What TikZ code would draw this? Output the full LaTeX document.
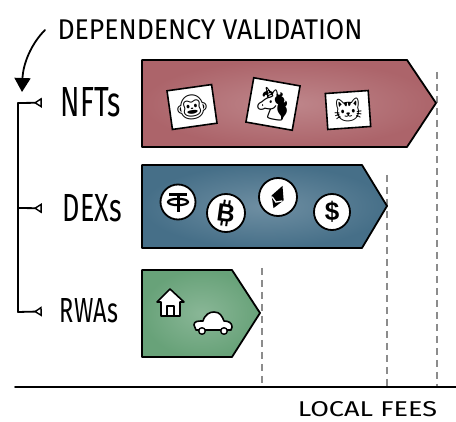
\documentclass[tikz,border=0pt]{standalone}
\usepackage{fontspec}
\usepackage{graphicx}
\setmainfont{Fira Sans}
\newfontfamily\emojifont{Noto Emoji}
\newfontfamily\coinfont{Liberation Sans}
\usetikzlibrary{arrows.meta}
\definecolor{nftred}{RGB}{172,100,106}
\definecolor{dexblue}{RGB}{70,111,136}
\definecolor{rwagreen}{RGB}{104,162,121}
\definecolor{guide}{RGB}{140,140,140}
\begin{document}
\begin{tikzpicture}[x=1pt,y=-1pt,
  ink/.style={line width=1.8pt, line join=round, line cap=round},
  guideline/.style={draw=guide, line width=1.4pt, dash pattern=on 7pt off 5pt},
  tag/.style={inner sep=0pt, anchor=center},
  frame/.style={draw=black, fill=white, line width=1.6pt, inner sep=0pt},
  coin/.style={circle, draw=black, fill=white, line width=1.8pt, inner sep=0pt},
  branch/.style={ink, -{Triangle[open,reversed,length=8pt,width=10pt,line width=1.4pt]}},
  wash/.style={ink, inner color=#1!78!white, outer color=#1},
]
\fill[white] (0,0) rectangle (456,422);
\useasboundingbox (0,0) rectangle (456,422);

% heading and its curved pointer
\node[tag] (title) at (210,30) {\resizebox{305pt}{20pt}{DEPENDENCY VALIDATION}};
\coordinate (hook) at (45,30);
\coordinate (hookend) at (22,92);
\draw[ink, -{Triangle[length=14pt,width=16pt]}] (hook) .. controls (31,44) and (23,64) .. (hookend);

% category labels
\node[tag] (nft) at (91,102.5) {\resizebox{60pt}{29pt}{NFTs}};
\node[tag] (dex) at (92.5,208.5) {\resizebox{59pt}{27pt}{DEXs}};
\node[tag] (rwa) at (89,311) {\resizebox{58pt}{24pt}{RWAs}};

% dependency rail
\coordinate (railN) at (18,103);
\coordinate (railD) at (18,208);
\coordinate (railR) at (18,312);
\draw[ink] (railN) -- (railR);
\draw[branch, shorten >=19pt] (railN) -- (nft.west);
\draw[branch, shorten >=21pt] (railD) -- (dex.west);
\draw[branch, shorten >=18pt] (railR) -- (rwa.west);

% fee guides and axis
\coordinate (axisL) at (15,387);
\coordinate (axisR) at (456,387);
\draw[guideline] (437,72) -- (437,387);
\draw[guideline] (387,175) -- (387,387);
\draw[guideline] (262,268) -- (262,387);
\draw[ink] (axisL) -- (axisR);
\node[tag] (fees) at (367.5,409.5) {\resizebox{139pt}{15pt}{LOCAL FEES}};

% bars
\shadedraw[wash=nftred] (142,60) -- (407,60) -- (436,103) -- (407,147) -- (142,147) -- cycle;
\shadedraw[wash=dexblue] (142,165) -- (362,165) -- (387,206) -- (362,248) -- (142,248) -- cycle;
\shadedraw[wash=rwagreen] (142,270) -- (232,270) -- (260,313) -- (232,357) -- (142,357) -- cycle;

% NFT collectibles
\node[frame, minimum width=45pt, minimum height=39pt, rotate=8] (monkey) at (192,107)
  {\emojifont\fontsize{26}{26}\selectfont 🐵};
\node[frame, minimum width=47pt, minimum height=45pt, rotate=-10] (unicorn) at (273,104)
  {\emojifont\fontsize{30}{30}\selectfont 🦄};
\node[frame, minimum width=43pt, minimum height=36pt, rotate=4] (cat) at (348,110)
  {\emojifont\fontsize{24}{24}\selectfont 🐱};

% DEX tokens
\node[coin, minimum size=35pt] (tether) at (178,202) {};
\node[coin, minimum size=38pt] (bitcoin) at (226,213) {};
\node[coin, minimum size=38pt] (ether) at (278,197) {};
\node[coin, minimum size=36pt] (dollar) at (332,212) {};

\begin{scope}[shift={(tether.center)}]
  \draw[line width=3pt] (-9,-7) -- (9,-7) (0,-7) -- (0,10);
  \draw[line width=2.2pt] (0,0) ellipse [x radius=10, y radius=3.2];
\end{scope}
\node[tag, rotate=-8] (btc) at (bitcoin.center) {\coinfont\bfseries\fontsize{25}{25}\selectfont B};
\begin{scope}[shift={(bitcoin.center)}, rotate=-8, line width=2pt]
  \draw (-3,-13) -- (-3,-8) (2,-13) -- (2,-8);
  \draw (-3,8) -- (-3,13) (2,8) -- (2,13);
\end{scope}
\begin{scope}[shift={(ether.center)}, rotate=-22]
  \fill (0,-12) -- (6.5,1) -- (0,12) -- (-6.5,1) -- cycle;
  \draw[white, line width=1.3pt] (-5.5,2) -- (0,5.5) -- (5.5,2);
\end{scope}
\node[tag] (usd) at (dollar.center) {\coinfont\bfseries\fontsize{26}{26}\selectfont\$};

% real-world assets
\filldraw[ink, fill=white, line width=1.6pt] (161,316) -- (161,302) -- (157,302) -- (170,289) -- (184,302) -- (180,302) -- (180,316) -- cycle;
\draw[ink, line width=1.6pt] (167,316) -- (167,306) -- (174,306) -- (174,316);
\filldraw[ink, fill=white, line width=1.6pt] (196,330) -- (194,325) .. controls (194,321) and (198,321) .. (203,321)
  .. controls (205,314) and (210,312) .. (214,312) .. controls (220,312) and (222,316) .. (224,321)
  .. controls (229,321) and (232,323) .. (232,327) -- (231,330) -- cycle;
\filldraw[ink, fill=white, line width=1.4pt] (202,331) circle [radius=3.3] (224,331) circle [radius=3.3];
\end{tikzpicture}
\end{document}
